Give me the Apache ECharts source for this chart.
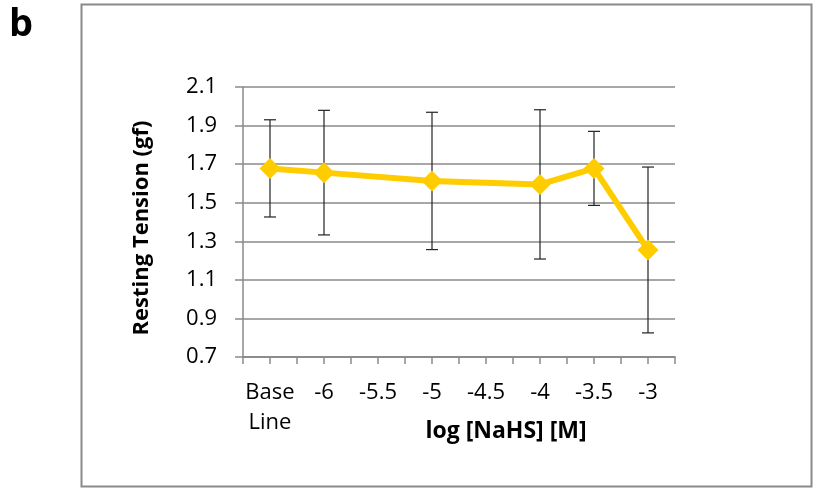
<!DOCTYPE html>
<html>
<head>
<meta charset="utf-8">
<script src="https://cdn.jsdelivr.net/npm/echarts@6/dist/echarts.min.js"></script>
<style>
  html, body { margin: 0; padding: 0; background: #fff; }
  #chart { width: 813px; height: 491px; }
</style>
</head>
<body>
<div id="chart"></div>
<script>
// log [NaHS] concentration steps (Base Line = no NaHS)
const categories = ['Base\nLine', '-6', '-5.5', '-5', '-4.5', '-4', '-3.5', '-3'];
// mean resting tension (gf); null where no measurement was taken
const meanTension = [1.678, 1.656, null, 1.613, null, 1.595, 1.678, 1.255];
// error bar half-width (gf)
const errTension = [0.252, 0.323, null, 0.356, null, 0.387, 0.192, 0.43];
const yTicks = { min: 0.7, max: 2.1, step: 0.2 };

const gray = '#8a8a8a';
const font = '"Open Sans", "Noto Sans", sans-serif';

const errData = [];
meanTension.forEach(function (m, i) {
  if (m != null) errData.push([i, m - errTension[i], m + errTension[i]]);
});

const chart = echarts.init(document.getElementById('chart'), null, { renderer: 'canvas' });
chart.setOption({
  animation: false,
  backgroundColor: '#fff',
  graphic: [
    {
      type: 'rect', z: 0,
      shape: { x: 81.5, y: 4.5, width: 730, height: 482 },
      style: { fill: 'none', stroke: gray, lineWidth: 2 }
    },
    {
      type: 'text', left: 9, top: 6,
      style: { text: 'b', font: 'bold 38px ' + font, fill: '#000' }
    }
  ],
  grid: { left: 243, right: 138, top: 87, bottom: 134, containLabel: false },
  xAxis: [
    {
      type: 'category',
      data: categories,
      boundaryGap: true,
      axisLine: { show: true, lineStyle: { color: gray, width: 1.5 } },
      axisTick: { show: true, alignWithLabel: true, length: 7, lineStyle: { color: gray, width: 1.5 } },
      axisLabel: { margin: 21, color: '#000', fontSize: 22, fontFamily: font, lineHeight: 30, interval: 0 },
      name: 'log [NaHS] [M]',
      nameLocation: 'middle',
      nameGap: 63,
      nameMoveOverlap: false,
      nameTextStyle: { fontSize: 23, fontWeight: 'bold', fontFamily: font, color: '#000', padding: [0, 0, 0, 94] }
    },
    {
      type: 'category',
      data: categories,
      boundaryGap: true,
      position: 'bottom',
      axisLine: { show: true, lineStyle: { color: gray, width: 1.5 } },
      axisTick: { show: true, alignWithLabel: false, length: 7, lineStyle: { color: gray, width: 1.5 } },
      axisLabel: { show: false }
    }
  ],
  yAxis: {
    type: 'value',
    min: yTicks.min,
    max: yTicks.max,
    interval: yTicks.step,
    axisLine: { show: true, lineStyle: { color: gray, width: 1.5 } },
    axisTick: { show: true, length: 8, lineStyle: { color: gray, width: 1.5 } },
    splitLine: { show: true, lineStyle: { color: gray, width: 1.5 } },
    axisLabel: {
      margin: 26, color: '#000', fontSize: 22, fontFamily: font,
      formatter: function (v) { return v.toFixed(1); }
    },
    name: 'Resting Tension (gf)',
    nameLocation: 'middle',
    nameGap: 90,
    nameMoveOverlap: false,
    nameTextStyle: { fontSize: 22, fontWeight: 'bold', fontFamily: font, color: '#000', padding: [0, 12, 0, 0] }
  },
  series: [
    {
      type: 'custom',
      xAxisIndex: 0,
      z: 2,
      data: errData,
      renderItem: function (params, api) {
        const x = api.value(0);
        const lo = api.coord([x, api.value(1)]);
        const hi = api.coord([x, api.value(2)]);
        const cap = 6;
        const st = { stroke: '#222', lineWidth: 1.2 };
        return {
          type: 'group',
          children: [
            { type: 'line', shape: { x1: lo[0], y1: lo[1], x2: hi[0], y2: hi[1] }, style: st },
            { type: 'line', shape: { x1: hi[0] - cap, y1: hi[1], x2: hi[0] + cap, y2: hi[1] }, style: st },
            { type: 'line', shape: { x1: lo[0] - cap, y1: lo[1], x2: lo[0] + cap, y2: lo[1] }, style: st }
          ]
        };
      }
    },
    {
      type: 'line',
      xAxisIndex: 0,
      z: 3,
      data: meanTension,
      connectNulls: true,
      symbol: 'diamond',
      symbolSize: 21,
      lineStyle: { color: '#FFCC00', width: 6 },
      itemStyle: { color: '#FFCC00' }
    }
  ]
});
</script>
</body>
</html>
